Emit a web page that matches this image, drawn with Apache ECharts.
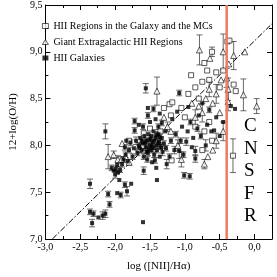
<!DOCTYPE html>
<html><head><meta charset="utf-8">
<script src="https://cdn.jsdelivr.net/npm/echarts@6/dist/echarts.min.js"></script>
<style>html,body{margin:0;padding:0;background:#fff}#c{width:277px;height:277px}</style>
</head><body><div id="c"></div>
<script>
// [log([NII]/Ha), 12+log(O/H), error]
const hiiGalaxies = [
[-2.36,7.59,0.05],[-2.36,7.29,0.03],[-2.31,7.27,0.03],[-2.33,7.17,0.04],[-2.24,7.23,0],[-2.18,7.25,0.04],
[-2.14,7.27,0.04],[-2.10,7.48,0.03],[-2.08,7.37,0.03],[-1.97,7.49,0],[-1.92,7.47,0.03],[-1.94,7.63,0],
[-1.86,7.58,0.03],[-1.83,7.51,0.05],[-1.77,7.59,0],[-1.60,7.18,0],[-1.40,7.63,0],[-1.01,7.68,0.03],
[-0.93,7.67,0.03],[-2.14,8.15,0.08],[-1.56,8.61,0.05],[-1.08,8.56,0.03],
[-2.05,7.76,0.03],[-2.02,7.73,0],[-1.99,7.75,0.03],[-1.96,7.71,0],[-1.93,7.74,0.03],[-2.00,7.69,0.04],[-1.97,7.79,0],[-1.90,7.80,0.03],
[-1.88,7.85,0.03],[-1.85,7.90,0.03],[-1.82,7.83,0],[-1.80,7.95,0.03],[-1.78,8.03,0.03],[-1.75,7.88,0.03],[-1.73,7.97,0],[-1.70,8.05,0.04],
[-1.68,7.92,0.03],[-1.66,8.00,0.03],[-1.64,8.08,0],[-1.62,7.95,0.03],[-1.60,8.02,0.03],[-1.72,8.16,0.03],[-1.84,8.05,0],[-1.86,7.98,0.03],
[-1.58,8.10,0.03],[-1.56,7.98,0.03],[-1.55,8.05,0.03],[-1.53,7.92,0.03],[-1.52,8.12,0],[-1.50,8.00,0.03],[-1.49,8.07,0.03],[-1.48,7.95,0.03],
[-1.46,8.03,0.03],[-1.45,8.15,0],[-1.44,7.90,0.03],[-1.42,8.08,0.03],[-1.41,8.00,0],[-1.40,7.95,0.03],[-1.38,8.12,0.03],[-1.37,8.04,0.03],
[-1.36,7.88,0],[-1.35,8.00,0.03],[-1.33,8.08,0],[-1.32,7.93,0.04],[-1.30,8.02,0.03],[-1.28,8.15,0],[-1.27,7.97,0.03],[-1.59,7.88,0.03],
[-1.54,7.85,0.03],[-1.47,7.82,0],[-1.43,7.84,0.03],
[-1.57,8.03,0.03],[-1.51,8.06,0],[-1.47,7.99,0.03],[-1.44,8.05,0],[-1.39,8.02,0.03],[-1.34,7.97,0],[-1.62,8.05,0.03],[-1.52,7.96,0.03],
[-1.48,8.10,0],[-1.41,8.11,0.03],[-1.55,7.93,0],[-1.45,7.97,0],[-1.65,7.97,0.03],[-1.36,8.09,0.03],
[-1.72,8.26,0.03],[-1.66,8.22,0],[-1.60,8.20,0.03],[-1.53,8.40,0],[-1.53,8.32,0.03],[-1.50,8.25,0],[-1.45,8.39,0.03],[-1.42,8.28,0],
[-1.38,8.20,0.03],[-1.36,8.34,0],[-1.33,8.24,0.03],
[-1.26,7.80,0.05],[-1.22,7.88,0.03],[-1.20,8.05,0.03],[-1.18,8.28,0],[-1.15,7.95,0.04],[-1.13,8.12,0.03],[-1.11,8.36,0],[-1.08,7.94,0.08],
[-1.06,8.05,0.03],[-1.04,8.20,0],[-1.02,7.90,0.03],[-0.98,8.04,0.04],[-0.96,8.15,0],[-0.95,8.41,0],[-0.92,8.25,0.03],[-0.90,7.98,0],
[-1.59,7.73,0.04],[-1.41,7.76,0],
[-0.85,7.94,0.05],[-0.85,7.86,0.04],[-0.88,8.08,0],[-0.82,8.18,0.03],[-0.80,8.32,0],[-0.77,8.10,0.03],[-0.75,8.45,0],[-0.70,8.00,0.06],
[-0.68,8.22,0],[-0.65,8.38,0.03],[-0.62,8.15,0],[-0.58,8.16,0],[-0.55,8.30,0],[-0.50,8.10,0],[-0.45,8.25,0],
[-0.34,8.42,0],[-0.28,8.39,0]
];
const gehr = [
[-2.10,7.88,0.13],[-1.90,8.02,0],[-2.02,7.90,0.04],[-1.96,7.85,0.04],[-1.91,7.85,0.03],[-1.85,7.88,0],[-1.80,7.82,0.03],
[-1.40,8.58,0.15],[-0.79,9.02,0.16],[-0.64,8.93,0],[-0.45,9.00,0.19],[-0.30,8.96,0.15],[-0.14,9.00,0],[-0.37,8.87,0],
[-0.16,8.54,0.17],[0.03,8.42,0.08],[-0.40,8.72,0.10],[-0.38,8.60,0.12],[-0.38,8.47,0.10],[-0.48,8.70,0],
[-0.55,8.55,0.10],[-0.60,8.45,0],[-0.65,8.60,0.08],[-0.70,8.50,0],[-0.75,8.35,0.10],[-0.80,8.42,0],[-0.85,8.30,0.08],[-0.90,8.45,0],
[-0.50,8.35,0],[-0.45,8.15,0.10],[-0.55,8.05,0.08],[-0.60,7.95,0],[-0.67,7.88,0],[-0.72,7.80,0.05],
[-1.25,8.20,0.05],[-1.30,8.30,0],[-1.20,8.15,0],[-1.10,8.00,0.06],[-1.05,7.85,0.08]
];
const hiiRegions = [
[-1.59,8.13,0],[-0.61,9.00,0.05],[-0.39,9.11,0],[-0.36,9.12,0],[-0.91,8.75,0],[-0.68,8.80,0],[-0.72,8.88,0],
[-0.30,8.65,0],[-0.27,8.58,0],[-0.31,7.89,0.18],[-0.61,8.05,0],[-0.72,8.15,0],[-1.19,7.84,0],
[-1.22,8.44,0],[-1.18,8.46,0],[-1.05,8.40,0],[-1.00,8.30,0],[-0.95,8.55,0],[-0.85,8.62,0],[-0.80,8.50,0],
[-0.75,8.68,0],[-0.65,8.70,0],[-0.55,8.78,0],[-0.50,8.62,0],[-0.45,8.80,0],
[-1.80,8.05,0],[-1.60,7.99,0],[-1.50,8.18,0],[-1.35,8.15,0],[-1.20,8.32,0],[-1.30,8.40,0],
[-0.85,8.20,0],[-0.75,7.95,0],[-0.65,8.25,0],[-1.65,7.95,0]
];
const calibLine = [[-2.9,7.0],[0.25,9.30]];
const cnsfrX = -0.4;
const xTicks = {min:-3, max:0.25, step:0.5};
const yTicks = {min:7.0, max:9.5, step:0.5};
const cnsfrLetters = ['C','N','S','F','R'];

const font = 'Liberation Serif';
const fmt = v => {
  const r = Math.round(v*2)/2;
  if (Math.abs(r - v) > 1e-6) return '';
  return r.toFixed(1).replace('.',',');
};
const chart = echarts.init(document.getElementById('c'));
const all = hiiGalaxies.concat(gehr, hiiRegions).filter(d => d[2] > 0);
const axisCommon = {
  axisLine:{onZero:false,lineStyle:{color:'#000',width:1}},
  axisTick:{inside:true,length:5,lineStyle:{color:'#000'}},
  minorTick:{show:true,splitNumber:2,length:3,lineStyle:{color:'#000'}},
  splitLine:{show:false}
};
chart.setOption({
  animation:false,
  grid:{left:29,right:5,top:5,bottom:35},
  xAxis:[
    Object.assign({type:'value',min:xTicks.min,max:xTicks.max,interval:xTicks.step,position:'bottom',
      name:'log ([NII]/H\u03b1)',nameLocation:'middle',nameGap:22,
      nameTextStyle:{fontFamily:font,fontSize:11,color:'#000'},
      axisLabel:{formatter:fmt,fontFamily:font,fontSize:10,color:'#000',margin:3}},axisCommon),
    Object.assign({type:'value',min:xTicks.min,max:xTicks.max,interval:xTicks.step,position:'top',
      axisLabel:{show:false}},axisCommon)
  ],
  yAxis:[
    Object.assign({type:'value',min:yTicks.min,max:yTicks.max,interval:yTicks.step,position:'left',
      name:'12+log(O/H)',nameLocation:'middle',nameGap:19,
      nameTextStyle:{fontFamily:font,fontSize:11,color:'#000'},
      axisLabel:{formatter:fmt,fontFamily:font,fontSize:10,color:'#000',margin:3}},axisCommon),
    Object.assign({type:'value',min:yTicks.min,max:yTicks.max,interval:yTicks.step,position:'right',
      axisLabel:{show:false}},axisCommon)
  ],
  legend:{
    data:['HII Regions in the Galaxy and the MCs','Giant Extragalactic HII Regions','HII Galaxies'],
    orient:'vertical',left:42,top:21,itemGap:6,itemWidth:6,itemHeight:5,
    itemStyle:{borderWidth:0.8},
    textStyle:{fontFamily:font,fontSize:10,color:'#000'},padding:0
  },
  series:[
    {type:'line',data:calibLine,showSymbol:false,symbol:'none',silent:true,
      lineStyle:{color:'#000',width:1,type:[6,2,1.5,2]},z:1},
    {type:'custom',data:all,z:2,silent:true,
      renderItem:(params,api)=>{
        const x=api.value(0),y=api.value(1),e=api.value(2);
        const p1=api.coord([x,y+e]),p2=api.coord([x,y-e]);
        const w=3;
        const st={stroke:'#444',lineWidth:0.8};
        return {type:'group',children:[
          {type:'line',shape:{x1:p1[0],y1:p1[1],x2:p2[0],y2:p2[1]},style:st},
          {type:'line',shape:{x1:p1[0]-w,y1:p1[1],x2:p1[0]+w,y2:p1[1]},style:st},
          {type:'line',shape:{x1:p2[0]-w,y1:p2[1],x2:p2[0]+w,y2:p2[1]},style:st}
        ]};
      }},
    {name:'HII Regions in the Galaxy and the MCs',type:'scatter',data:hiiRegions,symbol:'rect',symbolSize:5,
      itemStyle:{color:'#fff',borderColor:'#000',borderWidth:0.8},z:3},
    {name:'Giant Extragalactic HII Regions',type:'scatter',data:gehr,symbol:'triangle',symbolSize:6,
      itemStyle:{color:'#fff',borderColor:'#000',borderWidth:0.8},z:4},
    {name:'HII Galaxies',type:'scatter',data:hiiGalaxies,symbol:'rect',symbolSize:4,
      itemStyle:{color:'#000'},z:5},
    {type:'line',data:[[cnsfrX,yTicks.min],[cnsfrX,yTicks.max]],showSymbol:false,symbol:'none',silent:true,
      lineStyle:{color:'#f07a5c',width:2.5},z:6}
  ],
  graphic:cnsfrLetters.map((ch,i)=>({type:'text',left:244,top:117+i*22.5,
    style:{text:ch,fontFamily:font,fontSize:19,fill:'#000'}}))
});
</script></body></html>
